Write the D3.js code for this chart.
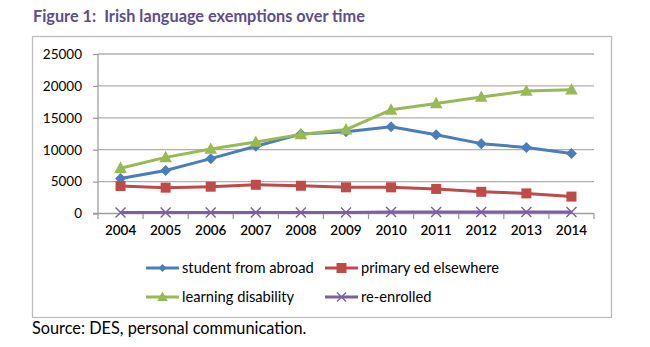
<!DOCTYPE html>
<html><head><meta charset="utf-8">
<script src="https://cdn.jsdelivr.net/npm/d3@7"></script>
<style>body{margin:0;background:#fff}svg{display:block}text{white-space:pre}</style>
</head><body>
<script>
const years = ["2004","2005","2006","2007","2008","2009","2010","2011","2012","2013","2014"];
const studentFromAbroad = [5500,6750,8600,10550,12450,12800,13600,12350,10950,10350,9400];
const primaryEdElsewhere = [4300,4050,4200,4500,4350,4100,4100,3850,3400,3150,2650];
const learningDisability = [7100,8800,10100,11200,12400,13150,16250,17250,18250,19200,19400];
const reEnrolled = [150,150,150,150,150,150,250,250,250,250,250];
const yTicks = [0,5000,10000,15000,20000,25000];
const seriesNames = ["student from abroad","primary ed elsewhere","learning disability","re-enrolled"];

const series = [
  {name:seriesNames[0], values:studentFromAbroad, color:"#4A7EBB", marker:"diamond"},
  {name:seriesNames[1], values:primaryEdElsewhere, color:"#BE4B48", marker:"square"},
  {name:seriesNames[2], values:learningDisability, color:"#98B954", marker:"triangle"},
  {name:seriesNames[3], values:reEnrolled, color:"#7D60A0", marker:"cross"}
];

const W=650,H=347;
const svg=d3.select("body").append("svg").attr("width",W).attr("height",H);
const font="Lato, 'Open Sans', sans-serif";

svg.append("text").attr("x",33).attr("y",22).attr("font-family",font).attr("font-weight","bold")
  .attr("font-size",16.3).attr("fill","#5E4C8C").attr("xml:space","preserve")
  .text("Figure 1:  Irish language exemptions over time");

svg.append("rect").attr("x",32.5).attr("y",36.5).attr("width",579).attr("height",281)
  .attr("fill","#fff").attr("stroke","#BDBDBD").attr("stroke-width",1.3);

const x=d3.scaleBand().domain(years).range([98,594]);
const y=d3.scaleLinear().domain([0,25000]).range([213.5,54]);

// gridlines
svg.append("g").selectAll("line").data(yTicks.filter(d=>d>0)).join("line")
  .attr("x1",98).attr("x2",594).attr("y1",d=>y(d)).attr("y2",d=>y(d))
  .attr("stroke","#AFAFAF").attr("stroke-width",1.3);

// y axis
const ya=svg.append("g").attr("transform","translate(98,0)")
  .call(d3.axisLeft(y).tickValues(yTicks).tickSize(5).tickPadding(11).tickFormat(d3.format("d")));
ya.select(".domain").attr("stroke","#9E9E9E").attr("stroke-width",1.3).attr("d","M0,54V213.5");
ya.selectAll(".tick line").attr("stroke","#9E9E9E").attr("stroke-width",1.3);
ya.selectAll("text").attr("font-family",font).attr("font-size",13.5).attr("fill","#000");

// x axis
const xa=svg.append("g").attr("transform","translate(0,213.5)")
  .call(d3.axisBottom(x).tickSize(0).tickPadding(12));
xa.select(".domain").attr("stroke","#9E9E9E").attr("stroke-width",1.3).attr("d","M93,0H594");
xa.selectAll("text").attr("font-family",font).attr("font-size",13.5).attr("fill","#000").attr("font-weight","600");
svg.append("g").selectAll("line").data(years.concat(["end"])).join("line")
  .attr("x1",(d,i)=>x(years[0])+i*x.step()).attr("x2",(d,i)=>x(years[0])+i*x.step())
  .attr("y1",213.5).attr("y2",219).attr("stroke","#9E9E9E").attr("stroke-width",1.3);

function drawMarker(g,type,cx,cy,s,color){
  if(type==="diamond"){
    g.append("path").attr("d",`M${cx},${cy-s}L${cx+s},${cy}L${cx},${cy+s}L${cx-s},${cy}Z`).attr("fill",color);
  } else if(type==="square"){
    g.append("rect").attr("x",cx-s).attr("y",cy-s).attr("width",2*s).attr("height",2*s).attr("fill",color);
  } else if(type==="triangle"){
    g.append("path").attr("d",`M${cx},${cy-s*1.1}L${cx+s*1.05},${cy+s*0.8}L${cx-s*1.05},${cy+s*0.8}Z`).attr("fill",color);
  } else {
    g.append("path").attr("d",`M${cx-s},${cy-s}L${cx+s},${cy+s}M${cx-s},${cy+s}L${cx+s},${cy-s}`)
      .attr("stroke",color).attr("stroke-width",1.4).attr("fill","none");
  }
}

const line=d3.line().x((d,i)=>x(years[i])+x.bandwidth()/2).y(d=>y(d));
series.forEach(s=>{
  const g=svg.append("g");
  g.append("path").datum(s.values).attr("d",line).attr("fill","none")
    .attr("stroke",s.color).attr("stroke-width",3).attr("stroke-linejoin","round");
  s.values.forEach((v,i)=>{
    const sz = s.marker==="square"?5:s.marker==="diamond"?5.5:s.marker==="triangle"?6:5;
    drawMarker(g,s.marker,x(years[i])+x.bandwidth()/2,y(v),sz,s.color);
  });
});

// legend
const legPos=[[146,268],[325,268],[146,297],[325,297]];
series.forEach((s,i)=>{
  const [lx,ly]=legPos[i];
  const g=svg.append("g");
  g.append("line").attr("x1",lx).attr("x2",lx+33).attr("y1",ly).attr("y2",ly)
    .attr("stroke",s.color).attr("stroke-width",3);
  const sz = s.marker==="square"?5:s.marker==="diamond"?4:s.marker==="triangle"?5:4.5;
  drawMarker(g,s.marker,lx+16.5,ly,sz,s.color);
  g.append("text").attr("x",lx+36).attr("y",ly+5).attr("font-family",font).attr("font-size",14.7)
    .attr("fill","#000").text(s.name);
});

svg.append("text").attr("x",32).attr("y",334).attr("font-family",font).attr("font-size",16.3)
  .attr("fill","#000").text("Source: DES, personal communication.");
</script>
</body></html>
